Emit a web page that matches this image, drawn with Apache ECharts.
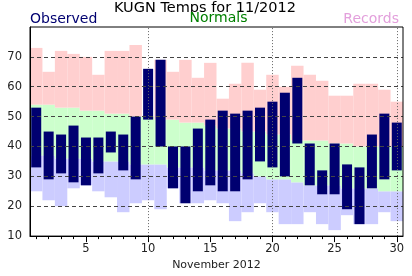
<!DOCTYPE html>
<html><head><meta charset="utf-8">
<script src="https://cdn.jsdelivr.net/npm/echarts@6/dist/echarts.min.js"></script>
<style>html,body{margin:0;padding:0;background:#fff}#c{width:412px;height:276px}</style>
</head><body><div id="c"></div>
<script>
const days = ['1','2','3','4','5','6','7','8','9','10','11','12','13','14','15','16','17','18','19','20','21','22','23','24','25','26','27','28','29','30'];
const obsHigh = [53,45,44,47,43,43,45,44,50,66,69,40,40,46,49,52,51,52,53,55,58,63,41,32,41,34,33,44,51,48];
const obsLow = [33,29,31,28,27,31,38,32,29,49,40,26,21,25,27,25,25,29,35,33,30,41,27,24,24,19,14,26,29,32];
const normalHigh = [54,54,53,53,52,52,51,51,50,50,49,49,48,48,47,46,46,45,45,44,44,42,42,42,41,41,40,40,40,40];
const normalLow = [37,37,36,36,36,35,35,35,34,34,34,33,33,33,32,32,32,31,30,29,29,28,27,27,27,26,26,26,25,25];
const recordHigh = [73,65,72,71,70,64,72,72,74,null,69,65,69,63,68,56,61,68,59,64,60,67,64,62,57,57,61,61,59,55];
const recordLow = [25,22,20,26,27,25,23,18,21,22,19,26,21,21,22,21,15,18,21,18,14,14,18,14,12,17,14,14,18,15];
const yTicks = [10,20,30,40,50,60,70,80];
const vLines = ['10','20','30'];

const FONT = '"DejaVu Sans", sans-serif';
const diff = (a, b) => a.map((v, i) => (v == null || b[i] == null) ? null : v - b[i]);

const chart = echarts.init(document.getElementById('c'), null, {renderer: 'canvas'});
chart.setOption({
  animation: false,
  backgroundColor: '#fff',
  textStyle: {fontFamily: FONT},
  grid: {left: 30, right: 9, top: 27, bottom: 30, show: true, borderColor: '#000', borderWidth: 1, z: 10, backgroundColor: 'transparent'},
  graphic: [
    {type: 'text', x: 205, y: 8, z: 20, style: {text: 'KUGN Temps for 11/2012', fill: '#000', font: '14.5px ' + FONT, align: 'center', verticalAlign: 'middle'}},
    {type: 'text', x: 30, y: 19.5, z: 20, style: {text: 'Observed', fill: '#000070', font: '14px ' + FONT, align: 'left', verticalAlign: 'middle'}},
    {type: 'text', x: 218.5, y: 18.5, z: 20, style: {text: 'Normals', fill: '#008000', font: '14px ' + FONT, align: 'center', verticalAlign: 'middle'}},
    {type: 'text', x: 399, y: 19.5, z: 20, style: {text: 'Records', fill: '#e3a0dc', font: '14px ' + FONT, align: 'right', verticalAlign: 'middle'}}
  ],
  xAxis: [
    {
      type: 'category', data: days, boundaryGap: true, position: 'bottom', z: 5,
      axisLine: {show: true, lineStyle: {color: '#000', width: 1}},
      axisTick: {show: true, alignWithLabel: true, interval: 0, length: 3, lineStyle: {color: '#000'}},
      axisLabel: {interval: (i) => (i + 1) % 5 === 0, color: '#222', fontSize: 11.5, fontFamily: FONT, margin: 7},
      splitLine: {show: false},
      name: 'November 2012', nameLocation: 'middle', nameGap: 23,
      nameTextStyle: {color: '#222', fontSize: 11, fontFamily: FONT}
    },
    {
      type: 'category', data: days, boundaryGap: true, position: 'bottom', z: 5,
      axisLine: {show: false},
      axisTick: {show: true, alignWithLabel: true, interval: (i) => (i + 1) % 5 === 0, length: 6, lineStyle: {color: '#000'}},
      axisLabel: {show: false},
      splitLine: {show: false}
    }
  ],
  yAxis: {
    type: 'value', min: yTicks[0], max: yTicks[yTicks.length - 1], interval: 10, z: 5,
    axisLine: {show: true, lineStyle: {color: '#000', width: 1}},
    axisTick: {show: false},
    axisLabel: {color: '#222', fontSize: 11.5, fontFamily: FONT, margin: 8, showMaxLabel: false},
    splitLine: {show: true, showMinLine: false, showMaxLine: false, lineStyle: {color: '#444', type: [4, 3], width: 1}}
  },
  series: [
    {type: 'bar', name: 'base', xAxisIndex: 0, stack: 'band', data: recordLow, itemStyle: {color: 'rgba(0,0,0,0)'}, barCategoryGap: '0%', silent: true},
    {type: 'bar', name: 'recLowBand', xAxisIndex: 0, stack: 'band', data: diff(normalLow, recordLow), itemStyle: {color: '#ccccff'}, barCategoryGap: '0%', silent: true},
    {type: 'bar', name: 'normals', xAxisIndex: 0, stack: 'band', data: diff(normalHigh, normalLow), itemStyle: {color: '#ccffcc'}, barCategoryGap: '0%', silent: true},
    {type: 'bar', name: 'recHighBand', xAxisIndex: 0, stack: 'band', data: diff(recordHigh, normalHigh), itemStyle: {color: '#ffcfcf'}, barCategoryGap: '0%', silent: true},
    {type: 'bar', name: 'obsBase', xAxisIndex: 1, stack: 'obs', data: obsLow, itemStyle: {color: 'rgba(0,0,0,0)'}, barWidth: 10, silent: true},
    {type: 'bar', name: 'observed', xAxisIndex: 1, stack: 'obs', data: diff(obsHigh, obsLow), itemStyle: {color: '#000070'}, barWidth: 10, silent: true,
      markLine: {silent: true, symbol: 'none', z: 6, label: {show: false},
        lineStyle: {color: '#666', type: [1, 2], width: 1},
        data: vLines.map(d => ({xAxis: d}))}
    }
  ]
});
</script>
</body></html>
